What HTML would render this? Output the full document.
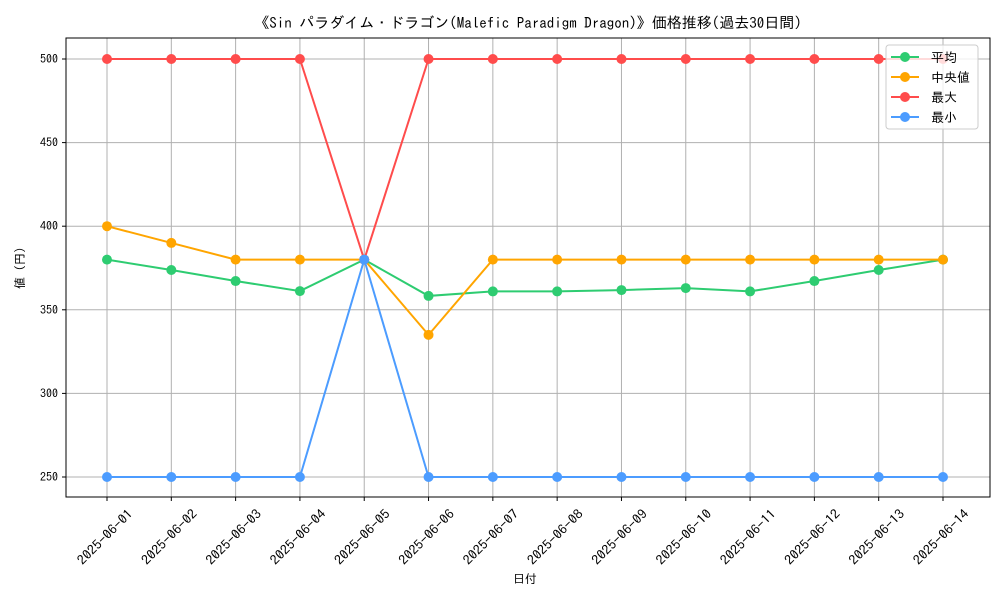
<!DOCTYPE html>
<html><head><meta charset="utf-8"><style>
html,body{margin:0;padding:0;background:#fff;}
svg text{font-family:"IPAGothic","Liberation Sans","Noto Sans CJK JP",sans-serif;}
</style></head><body>
<svg id="chart" width="1000" height="600" xmlns="http://www.w3.org/2000/svg"></svg>
<script>
const categories=["2025-06-01","2025-06-02","2025-06-03","2025-06-04","2025-06-05","2025-06-06","2025-06-07","2025-06-08","2025-06-09","2025-06-10","2025-06-11","2025-06-12","2025-06-13","2025-06-14"];
const avgValues=[380,373.8,367.2,361.2,380,358.3,361,361,361.8,363,361,367.2,373.8,380];
const medianValues=[400,390,380,380,380,335,380,380,380,380,380,380,380,380];
const maxValues=[500,500,500,500,380,500,500,500,500,500,500,500,500,500];
const minValues=[250,250,250,250,380,250,250,250,250,250,250,250,250,250];
const yTicks=[250,300,350,400,450,500];
const seriesNames=["平均","中央値","最大","最小"];
const svg=document.getElementById('chart');
const NS="http://www.w3.org/2000/svg";
const L=66,R=990,T=38,B=497;
const x=i=>107+i*(943-107)/(categories.length-1);
const y=v=>477-(v-250)*(477-59)/250;
function mk(tag,attrs,parent){const e=document.createElementNS(NS,tag);for(const k in attrs)e.setAttribute(k,attrs[k]);(parent||svg).appendChild(e);return e;}
categories.forEach((c,i)=>{
 const g=mk('line',{x1:x(i),x2:x(i),y1:T,y2:B,stroke:'#b0b0b0','stroke-width':1});
 
 
 mk('line',{x1:x(i),x2:x(i),y1:B,y2:B+4,stroke:'#000'});
 const t=mk('text',{x:0,y:0,'font-size':13,'text-anchor':'middle','dominant-baseline':'central',textLength:72,lengthAdjust:'spacingAndGlyphs',transform:`translate(${x(i)-2},${537}) rotate(-45)`});
 
 
 t.textContent=c;
});
yTicks.forEach(v=>{
 const g=mk('line',{x1:L,x2:R,y1:y(v),y2:y(v),stroke:'#b0b0b0','stroke-width':1});
 
 
 mk('line',{x1:L-4,x2:L,y1:y(v),y2:y(v),stroke:'#000'});
 const t=mk('text',{x:L-8,y:y(v)+4,'font-size':12,'text-anchor':'end'});
 
 
 t.textContent=v;
});
const frame=mk('rect',{x:L,y:T,width:R-L,height:B-T,fill:'none',stroke:'#000','stroke-width':1});


const series=[[avgValues,'#2ecc71'],[medianValues,'#ffa500'],[maxValues,'#ff4c4c'],[minValues,'#4c9cff']];
const snames=['series-average','series-median','series-max','series-min'];
series.forEach(([vals,col],si)=>{
 const g=mk('g',{});
 
 
 mk('polyline',{points:vals.map((v,i)=>x(i)+','+y(v)).join(' '),fill:'none',stroke:col,'stroke-width':2},g);
 vals.forEach((v,i)=>{const c=mk('circle',{cx:x(i),cy:y(v),r:5,fill:col},g);
  
  });
});
const lg=mk('g',{});


mk('rect',{x:886,y:45,width:92,height:84,rx:3,fill:'rgba(255,255,255,0.8)',stroke:'#ccc'},lg);
series.forEach(([v,col],i)=>{
 const yy=57+i*20;
 mk('line',{x1:891,x2:919,y1:yy,y2:yy,stroke:col,'stroke-width':2},lg);
 mk('circle',{cx:905,cy:yy,r:5,fill:col},lg);
 const t=mk('text',{x:931,y:yy+5,'font-size':13},lg);
 
 
 t.textContent=(i==1?' ':'')+seriesNames[i];
});
const title=mk('text',{x:528,y:28,'font-size':15,'text-anchor':'middle'});


title.textContent="《Sin パラダイム・ドラゴン(Malefic Paradigm Dragon)》価格推移(過去30日間)";
const xt=mk('text',{x:525,y:583,'font-size':12,'text-anchor':'middle'});


xt.textContent="日付";
const yt=mk('text',{x:0,y:0,'font-size':12,'text-anchor':'middle',transform:'translate(24,268) rotate(-90)'});


yt.textContent="値 (円)";
</script>
</body></html>
